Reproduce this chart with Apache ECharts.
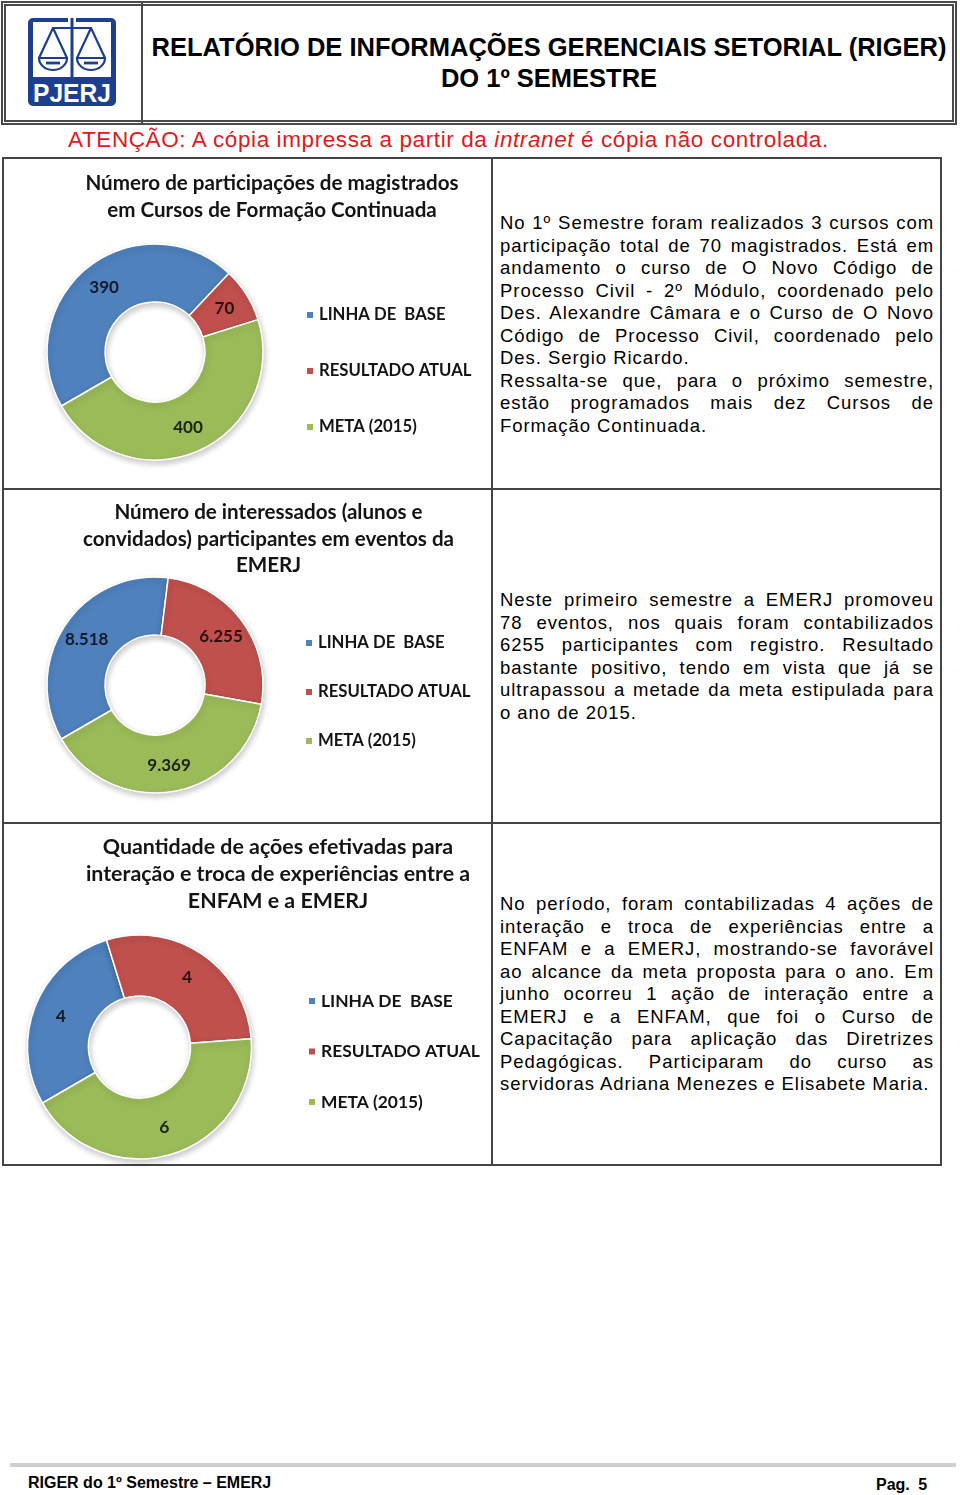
<!DOCTYPE html>
<html lang="pt-BR">
<head>
<meta charset="utf-8">
<title>RIGER - EMERJ</title>
<script src="https://cdn.jsdelivr.net/npm/echarts@6/dist/echarts.min.js"></script>
<style>
  html, body { margin: 0; padding: 0; background: #fff; }
  body { width: 960px; height: 1495px; position: relative; overflow: hidden; font-family: "Liberation Sans", Arial, sans-serif; color: #000; }
  .abs { position: absolute; }
  #headerBox { left: 1px; top: 1px; width: 956px; height: 124px; box-sizing: border-box; border: 5px double #4a4a4a; }
  #headerDiv { left: 141px; top: 3px; width: 2px; height: 120px; background: #4a4a4a; }
  .htitle { left: 143px; width: 812px; text-align: center; font-weight: bold; font-size: 25.5px; line-height: 31px; white-space: nowrap; }
  #warn { left: 68px; top: 126px; font-size: 22.5px; line-height: 28px; letter-spacing: 0.6px; color: #E3181B; white-space: nowrap; }
  #table { left: 2px; top: 157px; width: 940px; height: 1009px; box-sizing: border-box; border: 2px solid #444; }
  .vline { background: #444; }
  .txt { left: 500px; width: 434px; font-size: 18.5px; line-height: 22.5px; letter-spacing: 0.95px; }
  .txt div { white-space: nowrap; }
  .txt div.j { text-align: justify; text-align-last: justify; white-space: normal; }
  #footBar { left: 10px; top: 1463px; width: 946px; height: 4px; background: #cfcfcf; }
  .foot { font-weight: bold; font-size: 16px; line-height: 20px; white-space: nowrap; }
  #chart { position: absolute; left: 0; top: 0; width: 960px; height: 1495px; z-index: 2; pointer-events: none; }
</style>
</head>
<body>

<div id="headerBox" class="abs"></div>
<div id="headerDiv" class="abs"></div>
<svg class="abs" style="left:28px;top:18px" width="88" height="88" viewBox="0 0 88 88">
  <rect x="0" y="0" width="88" height="88" rx="5" fill="#1E3F8F"/>
  <rect x="5" y="4" width="78" height="55" fill="#fff"/>
  <rect x="40" y="0" width="8" height="5" fill="#fff"/>
  <rect x="42.5" y="0" width="3" height="59" fill="#1E3F8F"/>
  <line x1="24" y1="10" x2="64" y2="10" stroke="#1E3F8F" stroke-width="2"/>
  <path d="M25 10 L11 40 M25 10 L39 40 M11 40 A14 12 0 0 0 39 40 Z" fill="none" stroke="#1E3F8F" stroke-width="2.2"/>
  <line x1="18" y1="45" x2="32" y2="45" stroke="#1E3F8F" stroke-width="2.8"/>
  <path d="M63 10 L49 40 M63 10 L77 40 M49 40 A14 12 0 0 0 77 40 Z" fill="none" stroke="#1E3F8F" stroke-width="2.2"/>
  <line x1="56" y1="45" x2="70" y2="45" stroke="#1E3F8F" stroke-width="2.8"/>
  <text x="44" y="84" text-anchor="middle" font-family="Liberation Sans" font-weight="bold" font-size="25" fill="#fff" textLength="78" lengthAdjust="spacingAndGlyphs">PJERJ</text>
</svg>
<div class="abs htitle" style="top:32px">RELATÓRIO DE INFORMAÇÕES GERENCIAIS SETORIAL (RIGER)</div>
<div class="abs htitle" style="top:63px">DO 1º SEMESTRE</div>

<div id="warn" class="abs">ATENÇÃO: A cópia impressa a partir da <i>intranet</i> é cópia não controlada.</div>

<div id="table" class="abs"></div>
<div class="abs vline" style="left:491px;top:157px;width:2px;height:1009px"></div>
<div class="abs vline" style="left:2px;top:488px;width:940px;height:2px"></div>
<div class="abs vline" style="left:2px;top:822px;width:940px;height:2px"></div>

<div class="abs txt" style="top:212px">
  <div class="j">No 1º Semestre foram realizados 3 cursos com</div>
  <div class="j">participação total de 70 magistrados. Está em</div>
  <div class="j">andamento o curso de O Novo Código de</div>
  <div class="j">Processo Civil - 2º Módulo, coordenado pelo</div>
  <div class="j">Des. Alexandre Câmara e o Curso de O Novo</div>
  <div class="j">Código de Processo Civil, coordenado pelo</div>
  <div>Des. Sergio Ricardo.</div>
  <div class="j">Ressalta-se que, para o próximo semestre,</div>
  <div class="j">estão programados mais dez Cursos de</div>
  <div>Formação Continuada.</div>
</div>

<div class="abs txt" style="top:589px">
  <div class="j">Neste primeiro semestre a EMERJ promoveu</div>
  <div class="j">78 eventos, nos quais foram contabilizados</div>
  <div class="j">6255 participantes com registro. Resultado</div>
  <div class="j">bastante positivo, tendo em vista que já se</div>
  <div class="j">ultrapassou a metade da meta estipulada para</div>
  <div>o ano de 2015.</div>
</div>

<div class="abs txt" style="top:893px">
  <div class="j">No período, foram contabilizadas 4 ações de</div>
  <div class="j">interação e troca de experiências entre a</div>
  <div class="j">ENFAM e a EMERJ, mostrando-se favorável</div>
  <div class="j">ao alcance da meta proposta para o ano. Em</div>
  <div class="j">junho ocorreu 1 ação de interação entre a</div>
  <div class="j">EMERJ e a ENFAM, que foi o Curso de</div>
  <div class="j">Capacitação para aplicação das Diretrizes</div>
  <div class="j">Pedagógicas. Participaram do curso as</div>
  <div>servidoras Adriana Menezes e Elisabete Maria.</div>
</div>

<div id="footBar" class="abs"></div>
<div class="abs foot" style="left:28px;top:1473px">RIGER do 1º Semestre – EMERJ</div>
<div class="abs foot" style="left:876px;top:1475px;word-spacing:4px">Pag. 5</div>

<div id="chart"></div>

<script>
// ---- data ----
const categories = ['LINHA DE  BASE', 'RESULTADO ATUAL', 'META (2015)'];
const magistradosValues = [390, 70, 400];
const interessadosValues = [8518, 6255, 9369];
const acoesValues = [4, 4, 6];
const chartTitles = [
  ['Número de participações de magistrados', 'em Cursos de Formação Continuada'],
  ['Número de interessados (alunos e', 'convidados) participantes em eventos da', 'EMERJ'],
  ['Quantidade de ações efetivadas para', 'interação e troca de experiências entre a', 'ENFAM e a EMERJ']
];

// ---- styling / layout ----
const colors = ['#4F81BD', '#C0504D', '#9BBB59'];
const labelColors = ['#121a2b', '#2a1212', '#1c2410'];
const layouts = [
  { values: magistradosValues, center: [155, 352], radius: [50, 108], titleX: 272, titleTop: 169.5, titleLH: 27, titleFS: 20.6, legendFS: 16.7, labelFS: 17, legendLeft: 305, legendTop: 305, legendGap: 36 },
  { values: interessadosValues, center: [155, 685], radius: [50, 108], titleX: 268.5, titleTop: 499.5, titleLH: 26.5, titleFS: 20.6, legendFS: 16.7, labelFS: 17, legendLeft: 304, legendTop: 633, legendGap: 29 },
  { values: acoesValues, center: [139.5, 1047], radius: [51, 112], titleX: 278, titleTop: 833.5, titleLH: 27, titleFS: 21.4, legendFS: 17.4, labelFS: 17.5, legendLeft: 307, legendTop: 991, legendGap: 30.5 }
];

function fmt(v) { return String(v).replace(/\B(?=(\d{3})+(?!\d))/g, '.'); }

const chart = echarts.init(document.getElementById('chart'), null, { renderer: 'canvas' });
const option = {
  animation: false,
  backgroundColor: 'transparent',
  title: layouts.map((l, i) => ({
    text: chartTitles[i].join('\n'),
    left: l.titleX,
    top: l.titleTop,
    padding: 0,
    textAlign: 'center',
    textVerticalAlign: 'top',
    textStyle: { fontFamily: 'Lato', fontWeight: 'bold', fontSize: l.titleFS, lineHeight: l.titleLH, color: '#141414' }
  })),
  legend: layouts.map((l) => ({
    orient: 'vertical',
    left: l.legendLeft,
    top: l.legendTop,
    padding: 0,
    itemGap: l.legendGap,
    itemWidth: 8,
    itemHeight: 8,
    icon: 'rect',
    selectedMode: false,
    data: categories,
    textStyle: { fontFamily: 'Lato', fontWeight: 'bold', fontSize: l.legendFS, lineHeight: 20, color: '#141414' }
  })),
  series: layouts.map((l) => ({
    type: 'pie',
    center: l.center,
    radius: l.radius,
    startAngle: 210,
    clockwise: true,
    avoidLabelOverlap: false,
    silent: true,
    label: {
      show: true,
      position: 'inside',
      formatter: (p) => fmt(p.value),
      fontFamily: 'Lato',
      fontWeight: 'bold',
      fontSize: l.labelFS,
      color: '#111'
    },
    labelLine: { show: false },
    itemStyle: {
      borderColor: '#ffffff',
      borderWidth: 1.5,
      shadowBlur: 6,
      shadowOffsetX: 1,
      shadowOffsetY: 3,
      shadowColor: 'rgba(0,0,0,0.22)'
    },
    emphasis: { disabled: true },
    data: categories.map((n, i) => ({
      name: n,
      value: l.values[i],
      itemStyle: { color: colors[i] },
      label: { color: labelColors[i] }
    }))
  }))
};
chart.setOption(option);
</script>
</body>
</html>
